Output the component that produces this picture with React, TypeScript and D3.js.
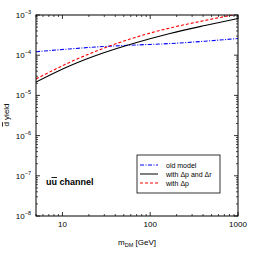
import React from 'react';
import * as d3 from 'd3';

// dark matter mass (GeV)
const masses = [5, 12, 29, 67, 168, 420, 1000];
// d-bar yield per series
const oldModel = [1.22e-4, 1.43e-4, 1.64e-4, 1.79e-4, 1.95e-4, 2.23e-4, 2.6e-4];
const withDpDr = [2.15e-5, 5.38e-5, 1.13e-4, 2.01e-4, 3.47e-4, 5.48e-4, 8.18e-4];
const withDp = [2.56e-5, 6.58e-5, 1.47e-4, 2.76e-4, 4.75e-4, 7.3e-4, 1.06e-3];

const xTickValues = [10, 100, 1000];
const yExponents = [-3, -4, -5, -6, -7, -8];
const legendLabels = ['old model', 'with \u0394p and \u0394r', 'with \u0394p'];

const font = '"Liberation Sans", Arial, sans-serif';

const App: React.FC = () => {
  const margin = { top: 15, right: 15, bottom: 37, left: 36 };
  const W = 253, H = 253;
  const x = d3.scaleLog().domain([5, 1000]).range([margin.left, W - margin.right]);
  const y = d3.scaleLog().domain([1e-8, 1e-3]).range([H - margin.bottom, margin.top]);
  const [x0, x1] = x.range();
  const [y0, y1] = y.range(); // y0 bottom, y1 top

  const line = d3.line<[number, number]>()
    .x(d => x(d[0]))
    .y(d => y(d[1]))
    .curve(d3.curveMonotoneX);

  const series = [
    { vals: oldModel, color: '#0000ff', dash: '4,1.5,1,1.5' },
    { vals: withDpDr, color: '#000000', dash: '' },
    { vals: withDp, color: '#ff0000', dash: '3,2' },
  ];

  // minor ticks
  const xMinor: number[] = [];
  for (let e = 0; e <= 2; e++) {
    for (let k = 2; k <= 9; k++) {
      const v = k * Math.pow(10, e);
      if (v >= 5 && v <= 1000 && !xTickValues.includes(v)) xMinor.push(v);
    }
  }
  const yMinor: number[] = [];
  for (let e = -8; e < -3; e++) {
    for (let k = 2; k <= 9; k++) yMinor.push(k * Math.pow(10, e));
  }

  const tick = 4, minor = 2;

  return (
    <svg width={W} height={H} style={{ position: 'absolute', left: 0, top: 0, background: '#fff' }}
      fontFamily={font}>
      <defs>
        <clipPath id="plot">
          <rect x={x0} y={y1} width={x1 - x0} height={y0 - y1} />
        </clipPath>
      </defs>

      {/* curves */}
      <g clipPath="url(#plot)">
        {series.map((s, i) => (
          <path key={i}
            d={line(masses.map((m, j) => [m, s.vals[j]] as [number, number])) || ''}
            fill="none" stroke={s.color} strokeWidth={1.1}
            strokeDasharray={s.dash || undefined} />
        ))}
      </g>

      {/* frame */}
      <rect x={x0} y={y1} width={x1 - x0} height={y0 - y1} fill="none" stroke="#000" strokeWidth={1} />

      {/* x ticks */}
      {xTickValues.map(v => (
        <g key={'xt' + v}>
          <line x1={x(v)} x2={x(v)} y1={y0} y2={y0 - tick} stroke="#000" strokeWidth={0.8} />
          <line x1={x(v)} x2={x(v)} y1={y1} y2={y1 + tick} stroke="#000" strokeWidth={0.8} />
          <text x={x(v)} y={y0 + 11} fontSize={8} textAnchor="middle">{v}</text>
        </g>
      ))}
      {xMinor.map(v => (
        <g key={'xm' + v}>
          <line x1={x(v)} x2={x(v)} y1={y0} y2={y0 - minor} stroke="#000" strokeWidth={0.7} />
          <line x1={x(v)} x2={x(v)} y1={y1} y2={y1 + minor} stroke="#000" strokeWidth={0.7} />
        </g>
      ))}

      {/* y ticks */}
      {yExponents.map(e => {
        const yy = y(Math.pow(10, e));
        return (
          <g key={'yt' + e}>
            <line x1={x0} x2={x0 + tick} y1={yy} y2={yy} stroke="#000" strokeWidth={0.8} />
            <line x1={x1} x2={x1 - tick} y1={yy} y2={yy} stroke="#000" strokeWidth={0.8} />
            <text x={31} y={yy + 3} fontSize={8} textAnchor="end">
              10<tspan dy={-4} fontSize={5.5}>{'\u2212' + Math.abs(e)}</tspan>
            </text>
          </g>
        );
      })}
      {yMinor.map((v, i) => (
        <g key={'ym' + i}>
          <line x1={x0} x2={x0 + minor} y1={y(v)} y2={y(v)} stroke="#000" strokeWidth={0.7} />
          <line x1={x1} x2={x1 - minor} y1={y(v)} y2={y(v)} stroke="#000" strokeWidth={0.7} />
        </g>
      ))}

      {/* axis labels */}
      <text x={(x0 + x1) / 2} y={245} fontSize={8} textAnchor="middle">
        m<tspan dy={2} fontSize={5.5}>DM</tspan><tspan dy={-2}> [GeV]</tspan>
      </text>
      <text transform={`translate(9,115) rotate(-90)`} fontSize={8} textAnchor="middle">
        <tspan textDecoration="overline">d</tspan> yield
      </text>

      {/* channel label */}
      <text x={46} y={185} fontSize={9} fontWeight="bold">
        u<tspan textDecoration="overline">u</tspan> channel
      </text>

      {/* legend */}
      <g>
        <rect x={137} y={155} width={83} height={38} fill="#fff" stroke="#000" strokeWidth={0.8} />
        {series.map((s, i) => {
          const ly = 165 + i * 9;
          return (
            <g key={'lg' + i}>
              <line x1={140} x2={158} y1={ly} y2={ly} stroke={s.color} strokeWidth={1}
                strokeDasharray={s.dash || undefined} />
              <text x={166} y={ly + 2.5} fontSize={7}>{legendLabels[i]}</text>
            </g>
          );
        })}
      </g>
    </svg>
  );
};

export default App;
